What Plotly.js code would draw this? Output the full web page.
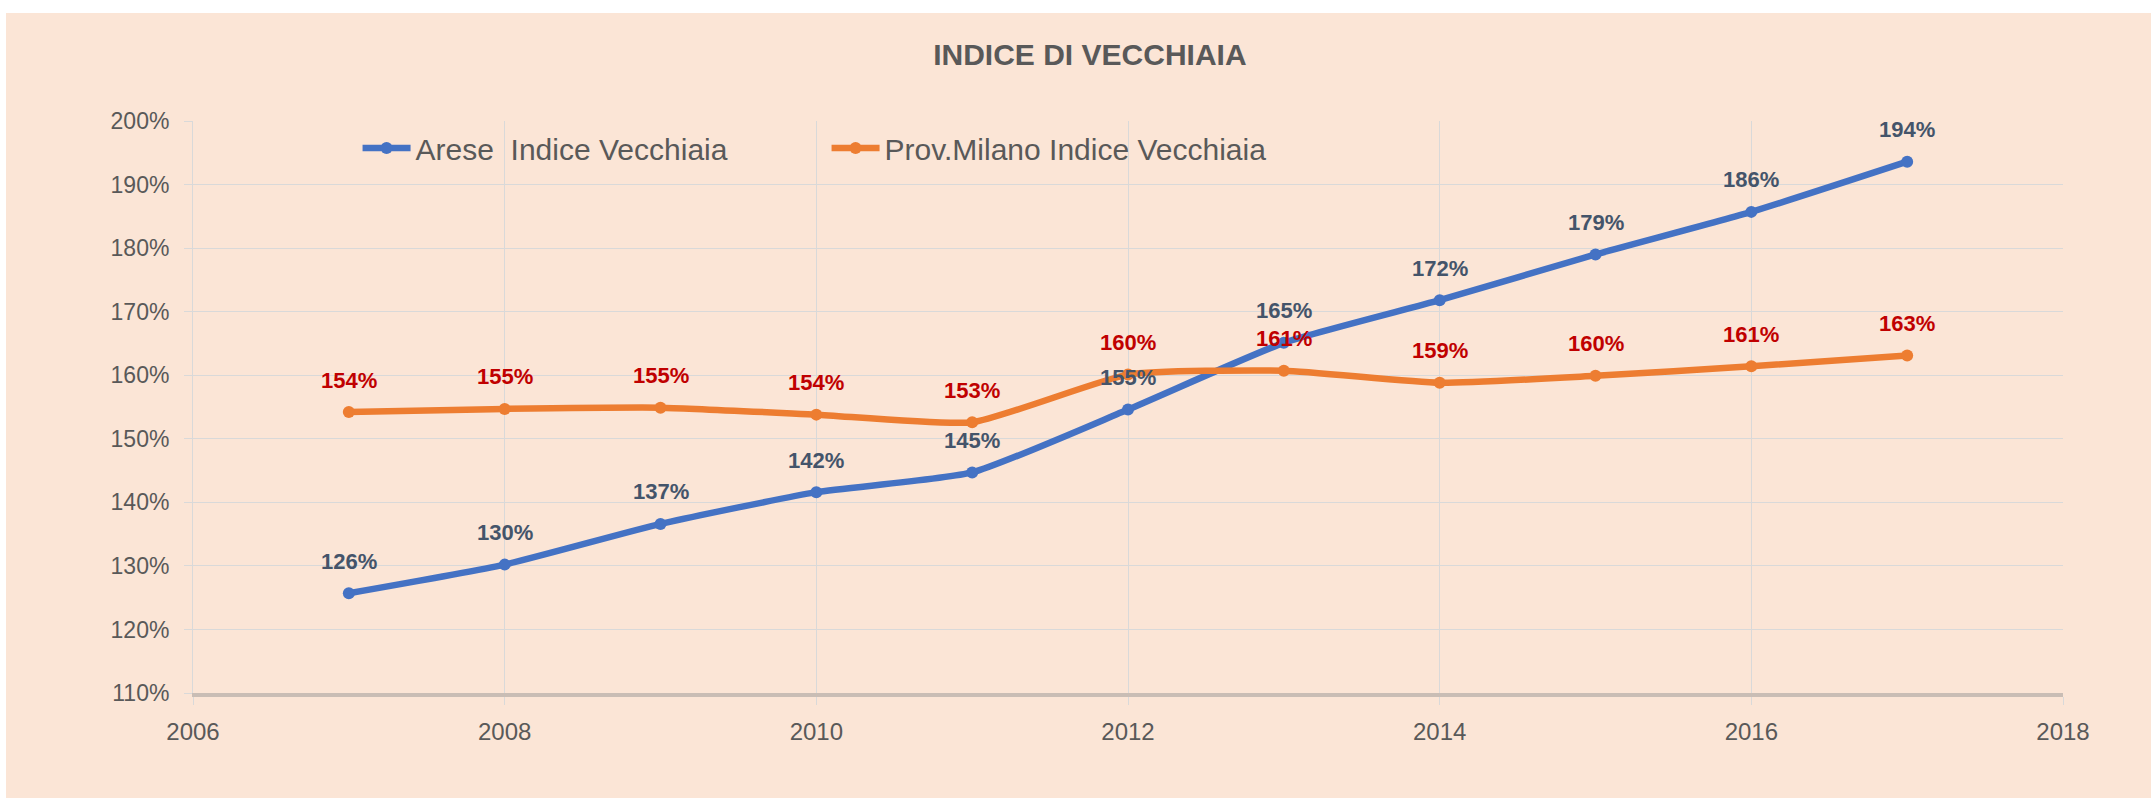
<!DOCTYPE html>
<html>
<head>
<meta charset="utf-8">
<script src="https://cdn.plot.ly/plotly-3.0.1.min.js"></script>
<style>
html,body{margin:0;padding:0;background:#ffffff;width:2151px;height:798px;overflow:hidden;}
#chart{position:absolute;left:6px;top:13px;width:2145px;height:785px;}
</style>
</head>
<body>
<div id="chart"></div>
<script>
const years = [2007, 2008, 2009, 2010, 2011, 2012, 2013, 2014, 2015, 2016, 2017];
const areseValues = [125.7, 130.2, 136.6, 141.6, 144.7, 154.6, 165.1, 171.8, 179.0, 185.7, 193.6];
const milanoValues = [154.2, 154.7, 154.9, 153.8, 152.6, 160.1, 160.7, 158.8, 159.9, 161.4, 163.1];
const seriesNames = ["Arese  Indice Vecchiaia", "Prov.Milano Indice Vecchiaia"];
const yTickValues = [110, 120, 130, 140, 150, 160, 170, 180, 190, 200];
const xTickValues = [2006, 2008, 2010, 2012, 2014, 2016, 2018];

const FONT = "Liberation Sans, Arial, sans-serif";
const blue = "#4472C4", orange = "#ED7D31";

const traces = [
  {x: years, y: areseValues, name: seriesNames[0], mode: "lines+markers",
   line: {color: blue, width: 6.5, shape: "spline", smoothing: 0.5},
   marker: {color: blue, size: 12}},
  {x: years, y: milanoValues, name: seriesNames[1], mode: "lines+markers",
   line: {color: orange, width: 6.5, shape: "spline", smoothing: 0.5},
   marker: {color: orange, size: 12}}
];

function labels(vals, color) {
  return years.map((yr, i) => ({
    x: yr, y: vals[i], xref: "x", yref: "y",
    text: Math.round(vals[i]) + "%", showarrow: false,
    yanchor: "middle", yshift: 32,
    font: {family: FONT, size: 22, color: color, weight: "bold"}
  }));
}

const layout = {
  width: 2145, height: 785,
  paper_bgcolor: "#FBE5D6", plot_bgcolor: "#FBE5D6",
  margin: {l: 187, r: 88, t: 108, b: 105},
  title: {text: "<b>INDICE DI VECCHIAIA</b>", x: 0.5053, xanchor: "center", y: 0.947, yanchor: "middle",
          font: {family: FONT, size: 30, color: "#595959"}},
  showlegend: true,
  legend: {orientation: "h", x: 0.088, xanchor: "left", y: 0.953, yanchor: "middle",
           bgcolor: "rgba(0,0,0,0)", entrywidth: 406, entrywidthmode: "pixels",
           itemwidth: 48,
           font: {family: FONT, size: 30, color: "#595959"}},
  xaxis: {range: [2006, 2018], tickvals: xTickValues, ticktext: xTickValues.map(String),
          showgrid: true, gridcolor: "#D9D9D9", gridwidth: 1,
          zeroline: false, showline: true, linecolor: "#C9BDB5", linewidth: 4,
          ticks: "outside", ticklen: 8, tickcolor: "#D9D9D9", ticklabelstandoff: 6,
          tickfont: {family: FONT, size: 24, color: "#595959"}, fixedrange: true},
  yaxis: {range: [110, 200], tickvals: yTickValues, ticktext: yTickValues.map(v => v + "%"),
          showgrid: true, gridcolor: "#D9D9D9", gridwidth: 1,
          zeroline: false, showline: true, linecolor: "#D9D9D9", linewidth: 1,
          ticks: "outside", ticklen: 8, tickcolor: "#D9D9D9", ticklabelstandoff: 10,
          tickfont: {family: FONT, size: 23, color: "#595959"}, fixedrange: true},
  annotations: labels(areseValues, "#44546A").concat(labels(milanoValues, "#C00000"))
};

Plotly.newPlot("chart", traces, layout, {displayModeBar: false, staticPlot: true});
</script>
</body>
</html>
